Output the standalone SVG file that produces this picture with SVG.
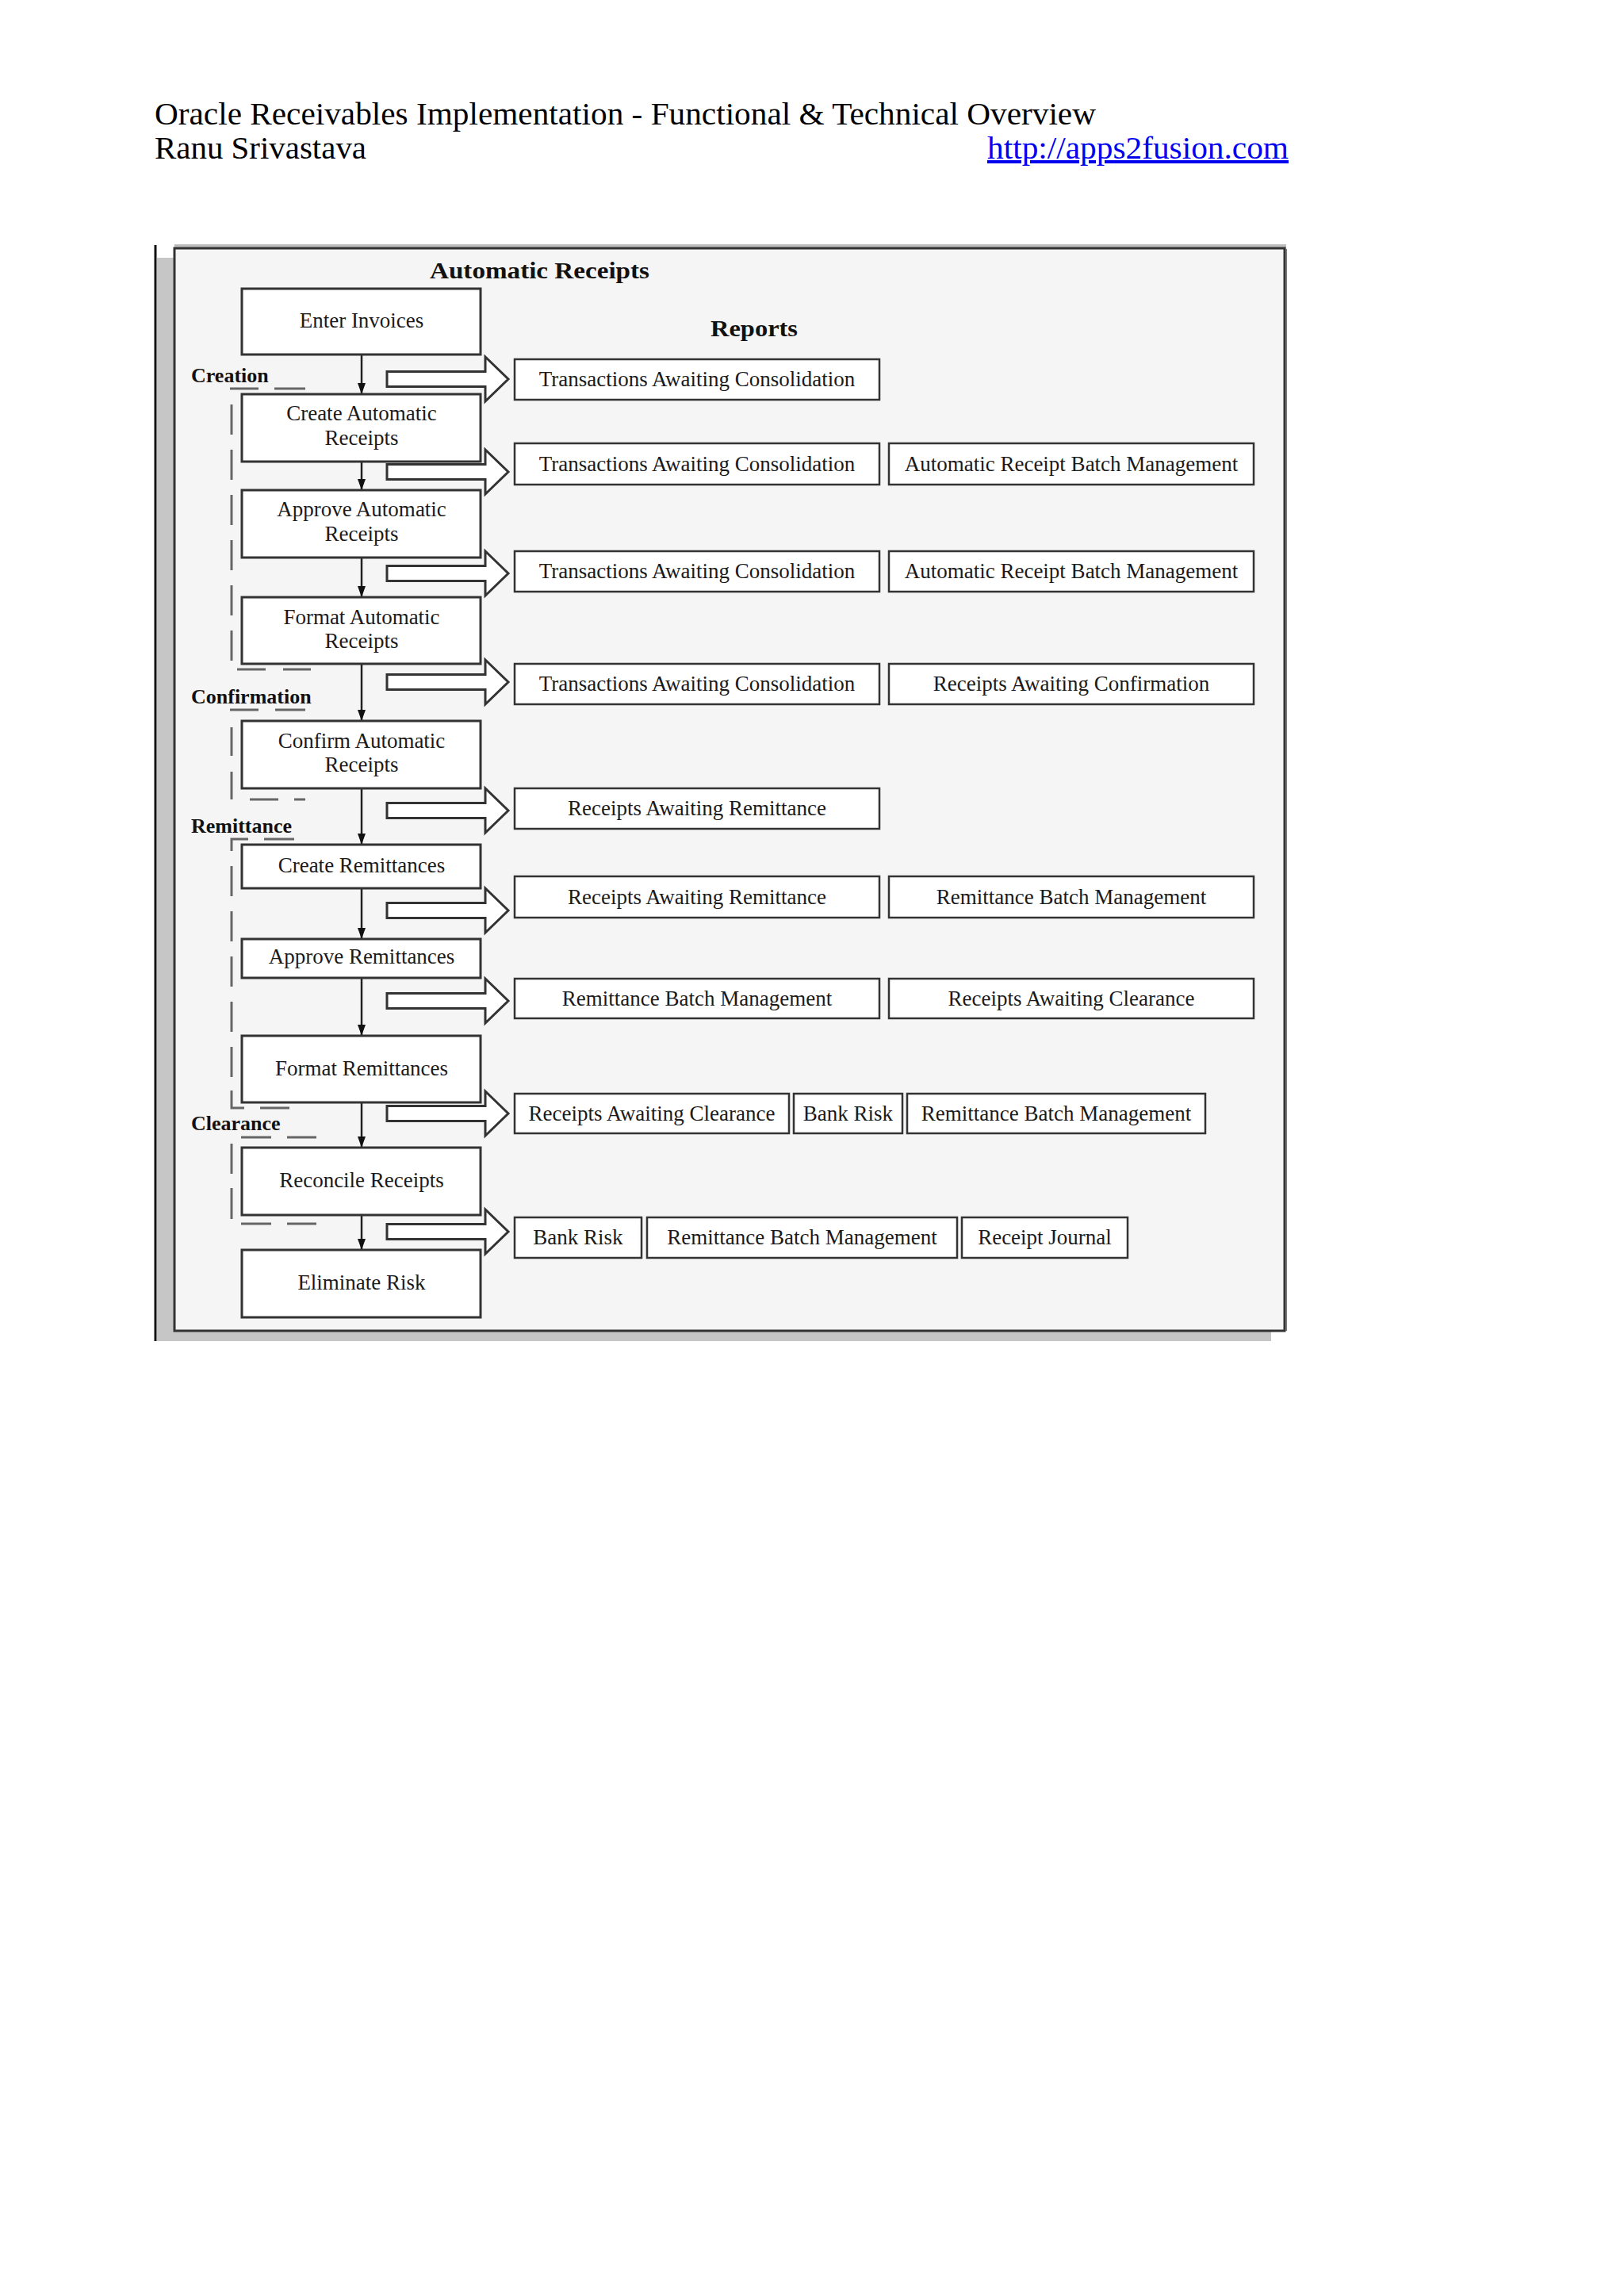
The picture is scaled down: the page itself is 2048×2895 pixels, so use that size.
<svg xmlns="http://www.w3.org/2000/svg" width="2048" height="2895" viewBox="0 0 2048 2895">
<style>
.hdr{font-family:"Liberation Serif","Times New Roman",serif;font-size:40px;fill:#000}
.lnk{font-family:"Liberation Serif","Times New Roman",serif;font-size:40px;fill:#0000ee;text-decoration:underline}
.ttl{font-family:"Liberation Serif","Times New Roman",serif;font-size:30px;font-weight:bold;fill:#111}
.sec{font-family:"Liberation Serif","Times New Roman",serif;font-size:26px;font-weight:bold;fill:#111}
.bx{fill:#fff;stroke:#333;stroke-width:3}
.rb{fill:#fff;stroke:#333;stroke-width:2.5}
.t{font-family:"Liberation Serif","Times New Roman",serif;font-size:27px;fill:#1a1a1a;text-anchor:middle}
.blk{fill:#fff;stroke:#333;stroke-width:3;stroke-linejoin:miter}
.vl{stroke:#222;stroke-width:2.5;fill:none}
.dsh{stroke:#666;stroke-width:3;fill:none}
</style>
<defs>
<marker id="ah" viewBox="0 0 14 10" refX="14" refY="5" markerWidth="14" markerHeight="10" markerUnits="userSpaceOnUse" orient="auto">
<path d="M0,0 L14,5 L0,10 z" fill="#111"/>
</marker>
</defs>
<rect width="2048" height="2895" fill="#fff"/>
<g id="header">
<text class="hdr" x="195" y="157" textLength="1187" lengthAdjust="spacingAndGlyphs">Oracle Receivables Implementation - Functional &amp; Technical Overview</text>
<text class="hdr" x="195" y="200" textLength="267" lengthAdjust="spacingAndGlyphs">Ranu Srivastava</text>
<text class="lnk" x="1245" y="200" textLength="380" lengthAdjust="spacingAndGlyphs">http://apps2fusion.com</text>
</g>
<g id="frame">
<rect x="198" y="325" width="1405" height="1366" fill="#c6c6c6"/>
<line x1="196" y1="309" x2="196" y2="1691" stroke="#111" stroke-width="3"/>
<rect x="220" y="308" width="1402" height="6" fill="#bdbdbd"/>
<rect x="220" y="313" width="1400" height="1365" fill="#f5f5f5" stroke="#333" stroke-width="3"/>
<line x1="1622" y1="314" x2="1622" y2="1678" stroke="#777" stroke-width="2"/>
<text class="ttl" x="542" y="351" textLength="277" lengthAdjust="spacingAndGlyphs">Automatic Receipts</text>
<text class="ttl" x="896" y="424" textLength="110" lengthAdjust="spacingAndGlyphs">Reports</text>
</g>
<g id="sections">
<text class="sec" x="241" y="482">Creation</text>
<text class="sec" x="241" y="887">Confirmation</text>
<text class="sec" x="241" y="1050">Remittance</text>
<text class="sec" x="241" y="1425">Clearance</text>
<path class="dsh" d="M290,490 H326 M346,490 H385 M299,844 H335 M357,844 H392"/>
<line class="dsh" x1="292" y1="510" x2="292" y2="833" stroke-dasharray="38 19"/>
<path class="dsh" d="M290,895 H326 M347,895 H385 M315,1008 H351 M371,1008 H385 M292,917 V953 M292,973 V1008"/>
<path class="dsh" d="M292,1073 V1058 H313 M333,1058 H371"/>
<line class="dsh" x1="292" y1="1092" x2="292" y2="1375" stroke-dasharray="38 19"/>
<path class="dsh" d="M292,1375 V1397 H308 M328,1397 H365"/>
<path class="dsh" d="M304,1434 H342 M362,1434 H399 M292,1442 V1480 M292,1498 V1537 M304,1543 H342 M362,1543 H399"/>
</g>
<g id="connectors">
<line class="vl" x1="456" y1="447" x2="456" y2="497" marker-end="url(#ah)"/>
<line class="vl" x1="456" y1="582" x2="456" y2="618" marker-end="url(#ah)"/>
<line class="vl" x1="456" y1="703" x2="456" y2="753" marker-end="url(#ah)"/>
<line class="vl" x1="456" y1="837" x2="456" y2="909" marker-end="url(#ah)"/>
<line class="vl" x1="456" y1="994" x2="456" y2="1065" marker-end="url(#ah)"/>
<line class="vl" x1="456" y1="1120" x2="456" y2="1184" marker-end="url(#ah)"/>
<line class="vl" x1="456" y1="1233" x2="456" y2="1306" marker-end="url(#ah)"/>
<line class="vl" x1="456" y1="1390" x2="456" y2="1447" marker-end="url(#ah)"/>
<line class="vl" x1="456" y1="1532" x2="456" y2="1576" marker-end="url(#ah)"/>
<path class="blk" d="M488,468.5 H612 V450 L641,478 L612,506 V487.5 H488 Z"/>
<path class="blk" d="M488,585.5 H612 V567 L641,595 L612,623 V604.5 H488 Z"/>
<path class="blk" d="M488,713.5 H612 V695 L641,723 L612,751 V732.5 H488 Z"/>
<path class="blk" d="M488,850.5 H612 V832 L641,860 L612,888 V869.5 H488 Z"/>
<path class="blk" d="M488,1012.5 H612 V994 L641,1022 L612,1050 V1031.5 H488 Z"/>
<path class="blk" d="M488,1138.5 H612 V1120 L641,1148 L612,1176 V1157.5 H488 Z"/>
<path class="blk" d="M488,1252.5 H612 V1234 L641,1262 L612,1290 V1271.5 H488 Z"/>
<path class="blk" d="M488,1394.5 H612 V1376 L641,1404 L612,1432 V1413.5 H488 Z"/>
<path class="blk" d="M488,1543.5 H612 V1525 L641,1553 L612,1581 V1562.5 H488 Z"/>
</g>
<g id="n-enter-invoices"><rect class="bx" x="305" y="364" width="301" height="83"/><text class="t" x="456" y="413">Enter Invoices</text></g>
<g id="n-create-auto"><rect class="bx" x="305" y="497" width="301" height="85"/><text class="t" x="456" y="530">Create Automatic</text><text class="t" x="456" y="561">Receipts</text></g>
<g id="n-approve-auto"><rect class="bx" x="305" y="618" width="301" height="85"/><text class="t" x="456" y="651">Approve Automatic</text><text class="t" x="456" y="682">Receipts</text></g>
<g id="n-format-auto"><rect class="bx" x="305" y="753" width="301" height="84"/><text class="t" x="456" y="787">Format Automatic</text><text class="t" x="456" y="817">Receipts</text></g>
<g id="n-confirm-auto"><rect class="bx" x="305" y="909" width="301" height="85"/><text class="t" x="456" y="943">Confirm Automatic</text><text class="t" x="456" y="973">Receipts</text></g>
<g id="n-create-rem"><rect class="bx" x="305" y="1065" width="301" height="55"/><text class="t" x="456" y="1100">Create Remittances</text></g>
<g id="n-approve-rem"><rect class="bx" x="305" y="1184" width="301" height="49"/><text class="t" x="456" y="1215">Approve Remittances</text></g>
<g id="n-format-rem"><rect class="bx" x="305" y="1306" width="301" height="84"/><text class="t" x="456" y="1356">Format Remittances</text></g>
<g id="n-reconcile"><rect class="bx" x="305" y="1447" width="301" height="85"/><text class="t" x="456" y="1497">Reconcile Receipts</text></g>
<g id="n-eliminate"><rect class="bx" x="305" y="1576" width="301" height="85"/><text class="t" x="456" y="1626">Eliminate Risk</text></g>
<g id="reports">
<g id="r1a"><rect class="rb" x="649" y="453" width="460" height="51"/><text class="t" x="879" y="487">Transactions Awaiting Consolidation</text></g>
<g id="r2a"><rect class="rb" x="649" y="559" width="460" height="52"/><text class="t" x="879" y="594">Transactions Awaiting Consolidation</text></g>
<g id="r2b"><rect class="rb" x="1121" y="559" width="460" height="52"/><text class="t" x="1351" y="594">Automatic Receipt Batch Management</text></g>
<g id="r3a"><rect class="rb" x="649" y="695" width="460" height="51"/><text class="t" x="879" y="729">Transactions Awaiting Consolidation</text></g>
<g id="r3b"><rect class="rb" x="1121" y="695" width="460" height="51"/><text class="t" x="1351" y="729">Automatic Receipt Batch Management</text></g>
<g id="r4a"><rect class="rb" x="649" y="837" width="460" height="51"/><text class="t" x="879" y="871">Transactions Awaiting Consolidation</text></g>
<g id="r4b"><rect class="rb" x="1121" y="837" width="460" height="51"/><text class="t" x="1351" y="871">Receipts Awaiting Confirmation</text></g>
<g id="r5a"><rect class="rb" x="649" y="994" width="460" height="51"/><text class="t" x="879" y="1028">Receipts Awaiting Remittance</text></g>
<g id="r6a"><rect class="rb" x="649" y="1105" width="460" height="52"/><text class="t" x="879" y="1140">Receipts Awaiting Remittance</text></g>
<g id="r6b"><rect class="rb" x="1121" y="1105" width="460" height="52"/><text class="t" x="1351" y="1140">Remittance Batch Management</text></g>
<g id="r7a"><rect class="rb" x="649" y="1234" width="460" height="50"/><text class="t" x="879" y="1268">Remittance Batch Management</text></g>
<g id="r7b"><rect class="rb" x="1121" y="1234" width="460" height="50"/><text class="t" x="1351" y="1268">Receipts Awaiting Clearance</text></g>
<g id="r8a"><rect class="rb" x="649" y="1379" width="346" height="50"/><text class="t" x="822" y="1413">Receipts Awaiting Clearance</text></g>
<g id="r8b"><rect class="rb" x="1001" y="1379" width="137" height="50"/><text class="t" x="1069.5" y="1413">Bank Risk</text></g>
<g id="r8c"><rect class="rb" x="1144" y="1379" width="376" height="50"/><text class="t" x="1332" y="1413">Remittance Batch Management</text></g>
<g id="r9a"><rect class="rb" x="649" y="1535" width="160" height="51"/><text class="t" x="729" y="1569">Bank Risk</text></g>
<g id="r9b"><rect class="rb" x="816" y="1535" width="391" height="51"/><text class="t" x="1011.5" y="1569">Remittance Batch Management</text></g>
<g id="r9c"><rect class="rb" x="1213" y="1535" width="209" height="51"/><text class="t" x="1317.5" y="1569">Receipt Journal</text></g>
</g>
</svg>
